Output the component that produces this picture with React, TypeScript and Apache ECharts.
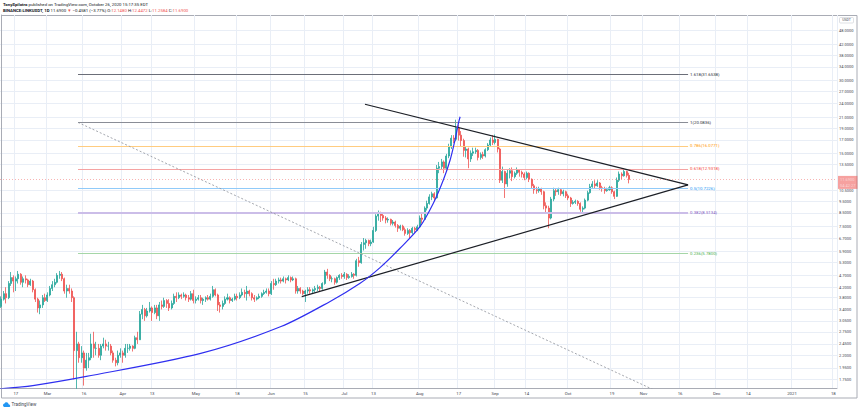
import React, { useEffect, useRef } from "react";
import * as echarts from "echarts";

// ---------- data ----------
const FIRST_DAY_UTC = Date.UTC(2020, 1, 11); // 2020-02-11, first category
const AXIS_DAYS = 344; // through 2021-01-19

const firstOpen = 3.5;
// daily closes from 2020-02-11 to 2020-10-26 (open = previous close)
const closes = [
  3.75, 3.95, 3.8, 4.35, 4.6, 4.45, 4.55, 4.75, 4.4, 4.55, 4.5, 4.3, 4.45, 4.1, 3.75, 3.45, 3.55, 3.8, 3.7,
  3.9, 4.15, 4.3, 4.4, 4.7, 4.75, 4.55, 4.05, 4.15, 4.05, 3.8, 2.3, 2.45, 2.15, 2.25, 1.95, 2.1, 2.15, 2.45, 2.35, 2.35, 2.2, 2.4, 2.45, 2.4, 2.4, 2.25, 2.1, 2.05, 2.2, 2.25,
  2.2, 2.35, 2.35, 2.4, 2.35, 2.6, 2.55, 3.25, 3.4, 3.2, 3.35, 3.45, 3.3, 3.45, 3.2, 3.55, 3.5, 3.7, 3.6, 3.45, 3.6, 3.85, 3.8, 3.9, 3.85, 3.9, 3.8, 3.75, 3.95, 3.7,
  3.75, 3.8, 3.7, 3.75, 3.8, 3.75, 3.85, 4.1, 3.9, 3.55, 3.5, 3.6, 3.75, 3.8, 3.7, 3.75, 3.85, 3.8, 3.9, 4.0, 3.95, 4.05, 3.95, 3.8, 3.75, 3.8, 3.85, 3.95, 4.0, 4.05, 3.95,
  4.35, 4.3, 4.45, 4.5, 4.45, 4.55, 4.5, 4.6, 4.5, 4.55, 4.05, 4.15, 4.05, 3.95, 4.05, 4.1, 4.05, 4.1, 4.15, 4.2, 4.15, 4.35, 4.85, 4.7, 4.55, 4.55, 4.4, 4.6, 4.7, 4.65,
  4.75, 4.6, 4.65, 4.75, 4.7, 5.4, 5.3, 6.3, 6.4, 6.55, 6.35, 6.45, 7.2, 8.25, 8.45, 8.3, 8.1, 7.95, 8.0, 7.7, 7.8, 7.55, 7.35, 7.5, 7.25, 7.0, 7.2, 7.05, 7.35, 7.25, 7.45,
  8.1, 8.0, 8.9, 9.3, 9.9, 10.2, 9.8, 13.0, 13.2, 13.8, 13.0, 14.6, 15.9, 17.3, 17.1, 19.0, 17.8, 16.9, 15.4, 15.6, 14.2, 15.0, 15.2, 15.4, 14.4, 14.8, 14.6, 15.5, 16.2, 17.0, 16.6,
  17.1, 15.6, 11.6, 12.6, 11.2, 12.4, 12.7, 12.0, 12.4, 12.8, 12.5, 12.3, 11.9, 12.4, 11.7, 11.0, 10.6, 10.5, 10.7, 10.4, 9.1, 8.9, 8.1, 9.7, 10.5, 10.4, 10.6, 10.2, 10.4, 10.0,
  9.8, 9.3, 9.4, 9.5, 9.3, 8.8, 8.9, 9.6, 10.3, 10.9, 11.2, 11.0, 11.3, 10.8, 10.7, 10.5, 10.6, 10.8, 10.4, 9.95, 11.6, 12.3, 12.1, 12.6, 12.148, 11.69,
];
const highs = [
  3.85, 4.05, 4.2, 4.45, 4.85, 4.7, 4.65, 4.9, 4.8, 4.65, 4.7, 4.55, 4.55, 4.5, 4.15, 3.8, 3.7, 3.9, 3.95,
  4.0, 4.25, 4.45, 4.55, 4.8, 4.9, 4.85, 4.6, 4.3, 4.3, 4.15, 3.85, 2.75, 2.5, 2.4, 2.3, 2.25, 2.25, 2.7, 2.75, 2.5, 2.45, 2.45, 2.6, 2.55, 2.5, 2.45, 2.3, 2.15, 2.3, 2.35,
  2.3, 2.45, 2.45, 2.45, 2.42, 2.65, 2.75, 3.35, 3.55, 3.45, 3.45, 3.65, 3.5, 3.55, 3.55, 3.65, 3.7, 3.8, 3.75, 3.75, 3.7, 3.95, 4.0, 4.0, 3.95, 4.0, 3.95, 3.9, 4.05, 4.1,
  3.85, 3.9, 3.9, 3.8, 3.85, 3.9, 3.95, 4.25, 4.15, 3.95, 3.65, 3.7, 3.85, 3.95, 3.85, 3.8, 3.95, 3.95, 4.0, 4.15, 4.1, 4.25, 4.1, 4.0, 3.9, 3.85, 3.95, 4.0, 4.1, 4.15, 4.15,
  4.45, 4.55, 4.55, 4.6, 4.6, 4.65, 4.6, 4.7, 4.65, 4.65, 4.6, 4.25, 4.2, 4.1, 4.1, 4.2, 4.2, 4.15, 4.25, 4.3, 4.25, 4.4, 4.95, 5.0, 4.75, 4.65, 4.6, 4.65, 4.75, 4.8,
  4.85, 4.8, 4.75, 4.85, 4.8, 5.5, 5.6, 6.45, 6.7, 6.65, 6.6, 6.6, 7.45, 8.4, 8.7, 8.6, 8.5, 8.25, 8.15, 8.05, 7.95, 7.9, 7.65, 7.6, 7.6, 7.4, 7.35, 7.3, 7.45, 7.45, 7.6,
  8.3, 8.45, 9.05, 9.55, 10.15, 10.4, 10.35, 13.4, 13.8, 14.2, 14.0, 14.9, 16.4, 17.8, 17.8, 20.6, 19.6, 18.5, 17.2, 15.9, 15.8, 15.4, 15.8, 15.8, 15.6, 15.1, 15.2, 15.7, 16.5, 17.4, 17.8,
  17.9, 17.2, 15.8, 13.2, 12.7, 12.8, 13.0, 13.1, 12.6, 13.1, 12.9, 12.7, 12.5, 12.6, 12.5, 11.8, 11.2, 10.9, 10.9, 10.8, 10.5, 9.4, 9.1, 9.9, 10.8, 10.7, 10.8, 10.7, 10.6, 10.5,
  10.2, 9.9, 9.6, 9.65, 9.6, 9.4, 9.05, 9.75, 10.5, 11.2, 11.5, 11.6, 11.6, 11.4, 11.0, 10.9, 10.8, 11.0, 10.95, 10.5, 11.9, 12.6, 12.5, 13.0, 12.7, 12.4472,
];
const lows = [
  3.45, 3.7, 3.6, 3.75, 4.25, 4.0, 4.05, 4.35, 4.3, 4.2, 4.35, 4.2, 4.25, 4.0, 3.65, 3.3, 3.25, 3.45, 3.65,
  3.65, 3.85, 4.05, 4.2, 4.35, 4.55, 4.45, 3.95, 3.8, 3.95, 3.65, 1.75, 1.6, 2.05, 2.05, 1.65, 1.9, 1.95, 2.1, 2.15, 2.2, 2.15, 2.1, 2.35, 2.3, 2.3, 2.2, 2.05, 1.98, 2.0, 2.15,
  2.05, 2.15, 2.25, 2.3, 2.28, 2.33, 2.45, 2.55, 3.1, 3.05, 3.15, 3.3, 3.05, 3.25, 3.1, 3.05, 3.4, 3.45, 3.45, 3.35, 3.4, 3.55, 3.65, 3.75, 3.75, 3.8, 3.7, 3.65, 3.7, 3.6,
  3.6, 3.7, 3.6, 3.55, 3.65, 3.7, 3.7, 3.8, 3.85, 3.35, 3.3, 3.4, 3.55, 3.7, 3.6, 3.65, 3.7, 3.7, 3.75, 3.85, 3.8, 3.7, 3.85, 3.7, 3.65, 3.7, 3.75, 3.8, 3.9, 3.95, 3.85,
  3.9, 4.1, 4.25, 4.35, 4.35, 4.4, 4.35, 4.45, 4.4, 4.45, 3.95, 3.95, 3.95, 3.9, 3.65, 3.95, 3.95, 3.95, 4.0, 4.05, 4.05, 4.1, 4.3, 4.55, 4.45, 4.4, 4.3, 4.35, 4.5, 4.55,
  4.55, 4.5, 4.55, 4.6, 4.55, 4.65, 5.1, 5.25, 5.95, 6.05, 6.2, 6.2, 6.4, 7.1, 7.9, 7.8, 7.9, 7.7, 7.75, 7.55, 7.55, 7.4, 7.1, 7.2, 7.15, 6.85, 6.9, 6.65, 6.95, 7.05, 7.15,
  7.4, 7.7, 7.95, 8.7, 9.2, 9.6, 9.5, 9.75, 12.4, 12.8, 12.4, 12.7, 14.3, 15.6, 16.5, 16.8, 16.9, 16.0, 14.5, 14.4, 13.0, 13.8, 14.6, 14.9, 14.0, 14.1, 14.2, 14.4, 15.3, 16.0, 16.2,
  16.3, 15.1, 11.3, 11.3, 9.8, 10.9, 11.8, 11.5, 11.8, 12.2, 12.0, 11.9, 11.6, 11.7, 11.4, 10.7, 10.2, 10.2, 10.3, 10.1, 8.8, 8.5, 7.35, 8.0, 9.5, 10.0, 10.1, 10.0, 9.95, 9.8,
  9.6, 9.0, 9.2, 9.25, 9.1, 8.6, 8.55, 8.8, 9.5, 10.2, 10.8, 10.7, 10.9, 10.6, 10.4, 10.2, 10.4, 10.5, 10.2, 9.7, 9.9, 11.4, 11.7, 12.0, 11.9, 11.2584,
];

const timeLabels: [string, string][] = [
  ["2020-02-17", "17"], ["2020-03-01", "Mar"], ["2020-03-16", "16"], ["2020-04-01", "Apr"],
  ["2020-04-13", "13"], ["2020-05-01", "May"], ["2020-05-18", "18"], ["2020-06-01", "Jun"],
  ["2020-06-15", "15"], ["2020-07-01", "Jul"], ["2020-07-13", "13"], ["2020-08-01", "Aug"],
  ["2020-08-17", "17"], ["2020-09-01", "Sep"], ["2020-09-14", "14"], ["2020-10-01", "Oct"],
  ["2020-10-19", "19"], ["2020-11-01", "Nov"], ["2020-11-16", "16"], ["2020-12-01", "Dec"],
  ["2020-12-14", "14"], ["2021-01-01", "2021"], ["2021-01-18", "18"],
];

const priceTicks = [48, 42, 38, 34, 30, 27, 24, 21, 19, 17, 15, 13.5, 10.5, 9.5, 8.5, 7.5, 6.7, 5.9, 5.3, 4.7, 4.2, 3.8, 3.4, 3.05, 2.75, 2.45, 2.2, 1.95, 1.75];
const Y_MIN = 1.6125;
const Y_MAX = 55.7;

const lastPrice = 11.69;
const countdown = "04:42:27";

const fibRatios = [1.618, 1, 0.786, 0.618, 0.5, 0.382, 0.236];
const fibPrices = [31.6538, 20.0836, 16.0771, 12.9318, 10.7226, 8.5134, 5.78];
const fibSpan = [31.56, 282.3]; // day indexes
const fibDiagonal = [[31.56, 20.0836], [282.3, 1.3616]];
const upperTrend = [[149.5, 23.86], [282.3, 11.09]];
const lowerTrend = [[123.5, 3.84], [282.3, 11.09]];
const parabola = [
  [-0.5, 1.6], [13, 1.65], [35, 1.8], [82, 2.24], [115, 2.89], [135, 3.66], [147.5, 4.36],
  [155.7, 5.06], [163.9, 6.08], [172.1, 7.46], [177.6, 9.32], [181.7, 11.62], [184.5, 14.06],
  [186.5, 17.0], [187.9, 19.9], [188.6, 21.2],
];

const headerLine1 = ["TonySpilotro", " published on TradingView.com, October 26, 2020 15:17:35 EDT"];
const headerLine2 = ["BINANCE:LINKUSDT, 1D", "11.6900", "▼", "−0.4581 (−3.77%)", [["O:", "12.1480"], ["H:", "12.4472"], ["L:", "11.2584"], ["C:", "11.6900"]]] as const;

// ---------- styles ----------
const FONT = "Roboto, 'Liberation Sans', sans-serif";
const UP = "#26a69a";
const DOWN = "#ef5350";
const GRID = "#e9eef6";
const AXIS = "#a9acb5";
const TEXT = "#434651";
const fibLineColors = ["#6b6e78", "#8a8d96", "#ffcc80", "#f5a3a3", "#90caf9", "#cbbde8", "#a5d6a7"];
const fibTextColors = ["#2a2e39", "#2a2e39", "#ff9800", "#f44336", "#2196f3", "#7e57c2", "#4caf50"];
const fibLineWidths = [1, 1, 1, 1, 1, 1.8, 1];

echarts.graphic.registerShape(
  "tvcloud",
  echarts.graphic.extendPath(
    "M6 16C2.7 16 0 13.3 0 10C0 7 2.2 4.6 5.1 4.1C6.2 1.7 8.6 0 11.5 0C15.2 0 18.2 2.8 18.5 6.4C21.6 6.8 24 9.4 24 12.5C24 14.4 22.4 16 20.5 16Z",
    {}
  )
);

export default function App() {
  const ref = useRef<HTMLDivElement>(null);

  useEffect(() => {
    if (!ref.current) return;
    const chart = echarts.init(ref.current, undefined, { renderer: "svg" });

    const categories: string[] = [];
    for (let i = 0; i < AXIS_DAYS; i++) {
      categories.push(new Date(FIRST_DAY_UTC + i * 86400000).toISOString().slice(0, 10));
    }
    const labelMap = new Map(timeLabels);
    const ohlc = closes.map((c, i) => [i === 0 ? firstOpen : closes[i - 1], c, lows[i], highs[i]]);

    const fibMarks = fibPrices.map((p, k) => [
      {
        coord: [fibSpan[0], p],
        lineStyle: { color: fibLineColors[k], width: fibLineWidths[k], type: "solid" },
        label: {
          show: true,
          position: "end",
          formatter: `${fibRatios[k]}(${p.toFixed(4)})`,
          color: fibTextColors[k],
          fontSize: 4.3,
          fontFamily: FONT,
          distance: 2,
        },
      },
      { coord: [fibSpan[1], p] },
    ]);

    const rich = (txt: string, key: string) => `{${key}|${txt}}`;
    const line2 =
      rich(headerLine2[0], "b") + " " + rich(headerLine2[1], "n") + " " + rich(headerLine2[2], "r") + " " +
      rich(headerLine2[3], "n") + " " +
      (headerLine2[4] as any).map((pair: string[]) => rich(pair[0], "n") + rich(pair[1], "r")).join(" ");

    const richStyles = {
      b: { fontWeight: "bold", fontSize: 4.3, fill: "#131722", fontFamily: FONT },
      n: { fontSize: 4.3, fill: "#131722", fontFamily: FONT },
      r: { fontSize: 4.3, fill: "#ef5350", fontFamily: FONT },
    };

    const option: any = {
      animation: false,
      backgroundColor: "#ffffff",
      textStyle: { fontFamily: FONT },
      grid: { left: 0, right: 23, top: 15, bottom: 23 },
      xAxis: [
        {
          type: "category",
          data: categories,
          boundaryGap: true,
          axisLine: { show: true, lineStyle: { color: AXIS, width: 1 } },
          axisTick: { show: false },
          axisLabel: {
            interval: (_i: number, v: string) => labelMap.has(v),
            formatter: (v: string) => labelMap.get(v) || "",
            fontSize: 4.3,
            color: TEXT,
            margin: 3,
            fontFamily: FONT,
          },
          splitLine: {
            show: true,
            interval: (_i: number, v: string) => labelMap.has(v),
            lineStyle: { color: GRID, width: 1 },
          },
        },
        { type: "value", min: -0.5, max: AXIS_DAYS - 0.5, show: false },
      ],
      yAxis: {
        type: "log",
        logBase: 10,
        min: Y_MIN,
        max: Y_MAX,
        position: "right",
        axisLine: { show: true, lineStyle: { color: AXIS, width: 1 } },
        axisTick: { show: false },
        axisLabel: { show: false },
        splitLine: { show: false },
      },
      series: [
        {
          name: "priceGrid",
          type: "line",
          xAxisIndex: 1,
          data: [[0, 10]],
          showSymbol: false,
          silent: true,
          z: 0,
          lineStyle: { opacity: 0 },
          markLine: {
            silent: true,
            z: 0,
            symbol: ["none", "none"],
            lineStyle: { color: GRID, width: 1, type: "solid" },
            label: {
              show: true,
              position: "end",
              distance: 2,
              formatter: (p: any) => Number(p.value).toFixed(4),
              fontSize: 4,
              color: TEXT,
              fontFamily: FONT,
            },
            data: priceTicks.map((v) => ({ yAxis: v })),
          },
        },
        {
          name: "LINKUSDT",
          type: "candlestick",
          xAxisIndex: 0,
          data: ohlc,
          barWidth: "62%",
          z: 2,
          itemStyle: { color: UP, color0: DOWN, borderColor: UP, borderColor0: DOWN, borderWidth: 0.8 },
          markLine: {
            silent: true,
            z: 6,
            symbol: ["none", "none"],
            lineStyle: { color: DOWN, width: 0.8, type: [1, 2], opacity: 0.55 },
            label: {
              show: true,
              position: "end",
              distance: 1,
              offset: [0, 3],
              formatter: `{p|${lastPrice.toFixed(4)}}\n{t|${countdown}}`,
              backgroundColor: DOWN,
              padding: [1, 2, 1, 2],
              rich: {
                p: { color: "#ffffff", fontSize: 4, lineHeight: 5.5, fontFamily: FONT },
                t: { color: "#ffffff", fontSize: 4, lineHeight: 5.5, fontFamily: FONT },
              },
            },
            data: [{ yAxis: lastPrice }],
          },
        },
        {
          name: "fib",
          type: "line",
          xAxisIndex: 1,
          data: [[fibSpan[0], fibPrices[1]]],
          showSymbol: false,
          silent: true,
          z: 3,
          lineStyle: { opacity: 0 },
          markLine: {
            silent: true,
            z: 3,
            symbol: ["none", "none"],
            data: fibMarks,
          },
        },
        {
          name: "fibDiagonal",
          type: "line",
          xAxisIndex: 1,
          data: fibDiagonal,
          showSymbol: false,
          silent: true,
          clip: true,
          z: 4,
          lineStyle: { color: "#8d9099", width: 0.8, type: [2, 2] },
        },
        {
          name: "upper",
          type: "line",
          xAxisIndex: 1,
          data: upperTrend,
          showSymbol: false,
          silent: true,
          z: 5,
          lineStyle: { color: "#1c1f26", width: 1.2 },
        },
        {
          name: "lower",
          type: "line",
          xAxisIndex: 1,
          data: lowerTrend,
          showSymbol: false,
          silent: true,
          z: 5,
          lineStyle: { color: "#1c1f26", width: 1.2 },
        },
        {
          name: "parabola",
          type: "line",
          xAxisIndex: 1,
          data: parabola,
          smooth: 0.3,
          showSymbol: false,
          silent: true,
          clip: true,
          z: 5,
          lineStyle: { color: "#2f2ff0", width: 1.2 },
        },
      ],
      graphic: [
        {
          type: "rect",
          silent: true,
          z: -1,
          shape: { x: 1.5, y: 15.5, width: 855.5, height: 382.5 },
          style: { fill: "none", stroke: AXIS, lineWidth: 1 },
        },
        {
          type: "text",
          x: 3,
          y: 4,
          style: {
            text: rich(headerLine1[0], "b") + rich(headerLine1[1], "n"),
            rich: richStyles,
            verticalAlign: "middle",
            fontSize: 4.3,
            fontFamily: FONT,
            fill: "#131722",
          },
        },
        {
          type: "text",
          x: 3,
          y: 10,
          style: {
            text: line2,
            rich: richStyles,
            verticalAlign: "middle",
            fontSize: 4.3,
            fontFamily: FONT,
            fill: "#131722",
          },
        },
        {
          type: "group",
          x: 839.5,
          y: 17.5,
          children: [
            {
              type: "rect",
              shape: { x: 0, y: 0, width: 14, height: 5.5, r: 1 },
              style: { fill: "#ffffff", stroke: "#c9ccd4", lineWidth: 0.6 },
            },
            {
              type: "text",
              x: 7,
              y: 2.9,
              style: { text: "USDT", fontSize: 3.5, fontFamily: FONT, fill: TEXT, align: "center", verticalAlign: "middle" },
            },
          ],
        },
        {
          type: "tvcloud",
          x: 3,
          y: 402.3,
          scaleX: 0.3,
          scaleY: 0.3,
          style: { fill: "#2196f3" },
        },
        {
          type: "text",
          x: 11.5,
          y: 404.8,
          style: { text: "TradingView", fontSize: 4.5, fontFamily: FONT, fill: "#434651", verticalAlign: "middle" },
        },
      ],
    };

    chart.setOption(option);
    return () => chart.dispose();
  }, []);

  return (
    <div
      ref={ref}
      style={{ position: "fixed", left: 0, top: 0, width: 860, height: 411, background: "#ffffff" }}
    />
  );
}
